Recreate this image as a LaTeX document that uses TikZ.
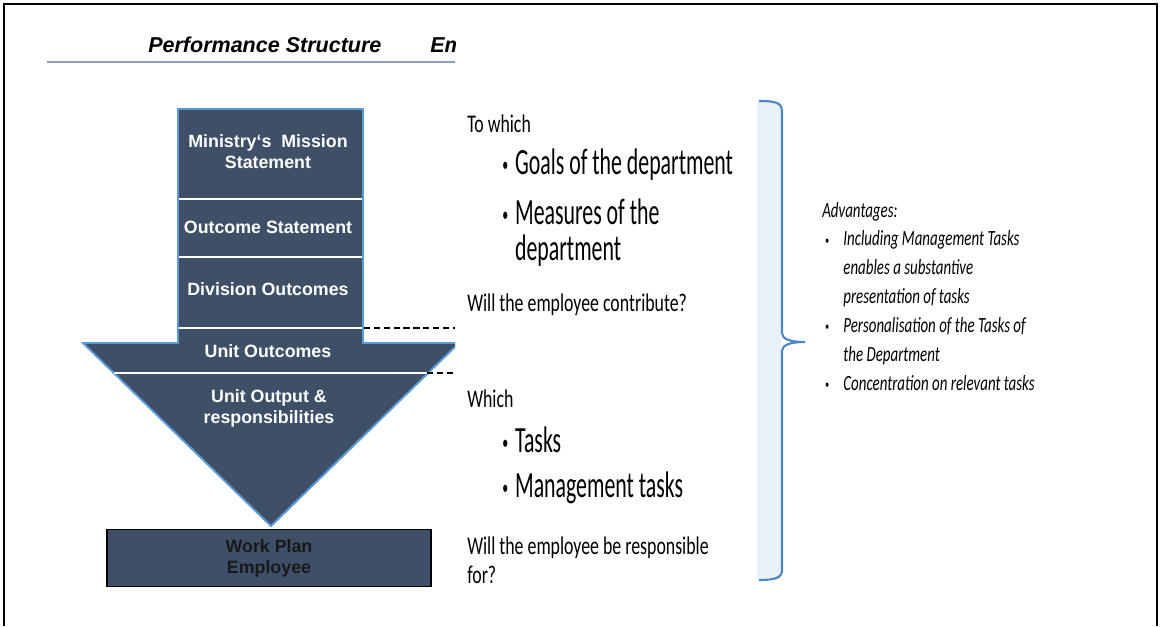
\documentclass[tikz,border=0pt]{standalone}
\usepackage{fontspec}
\setmainfont{Liberation Sans}
\newfontfamily\plainfont[FakeStretch=0.70]{Carlito}
\newfontfamily\bigfont[FakeStretch=0.59]{Carlito}
\newfontfamily\advfont[FakeStretch=0.69]{Carlito}
\usetikzlibrary{positioning}
\definecolor{slate}{HTML}{3E4F67}
\definecolor{edgeblue}{HTML}{5B9BD5}
\definecolor{bracecol}{HTML}{4A86C8}
\definecolor{gridfill}{HTML}{E9F0F9}
\definecolor{rulecol}{HTML}{8C9DBA}
\newcommand{\smallbullet}{\raisebox{0.08em}{\scalebox{0.55}{•}}}

\begin{document}
\begin{tikzpicture}[
        x=0.025cm, y=-0.025cm,
        stage/.style={text=white, font=\fontsize{12.66}{15}\selectfont\bfseries, align=center, inner sep=0pt},
        plain/.style={font=\plainfont\fontsize{18.1}{20}\selectfont, anchor=base west, inner sep=0pt, align=left},
        big/.style={font=\bigfont\fontsize{26.3}{25.6}\selectfont, anchor=base west, inner sep=0pt, align=left},
        adv/.style={font=\advfont\itshape\fontsize{15.4}{20.5}\selectfont, anchor=base west, inner sep=0pt, align=left},
        sep/.style={white, line width=1.4pt},
        link/.style={black, line width=1.3pt, dash pattern=on 4.5pt off 2.5pt},
    ]
    \useasboundingbox (0,0) rectangle (1161,626);
    \draw[line width=1.5pt] (4,626) -- (4,4) -- (1157,4) -- (1157,626);

    \node[anchor=base west, inner sep=0pt, font=\fontsize{15.3}{18}\selectfont\bfseries\itshape] (title) at (148,52) {Performance Structure};
    \begin{scope}
        \clip (0,0) rectangle (455,626);
        \node[anchor=base west, inner sep=0pt, font=\fontsize{15.3}{18}\selectfont\bfseries\itshape] (em) at (430,52) {Em};
        \draw[rulecol, line width=1.5pt] (47,62) -- (460,62);
        \draw[fill=slate, draw=edgeblue, line width=1.4pt]
            (178,109) -- (363,109) -- (363,343) -- (459,343) -- (271,526)
            -- (83,343) -- (178,343) -- cycle;
        \draw[sep] (179,199) -- (362,199);
        \draw[sep] (179,257) -- (362,257);
        \draw[sep] (179,328) -- (362,328);
        \draw[sep] (114,373) -- (427,373);
    \end{scope}

    \node[stage] (mission) at (268,152) {Ministry‘s~ Mission\\Statement};
    \node[stage, anchor=base] (outcome) at (268,233) {Outcome Statement};
    \node[stage, anchor=base] (division) at (268,295) {Division Outcomes};
    \node[stage, anchor=base] (unitout) at (268,357) {Unit Outcomes};
    \node[stage] (unitoutput) at (269,408) {Unit Output \&\\responsibilities};
    \node[draw=black, fill=slate, line width=1.4pt, minimum width=324*0.025cm, minimum height=57*0.025cm,
          text=black!90, font=\fontsize{12.66}{15}\selectfont\bfseries, align=center, inner sep=0pt]
          (workplan) at (269,558) {Work Plan\\Employee};

    \coordinate (d1) at (364,328);
    \coordinate (d1end) at (455,328);
    \coordinate (d2) at (427,373);
    \coordinate (d2end) at (455,373);
    \draw[link] (d1) -- (d1end);
    \draw[link] (d2) -- (d2end);

    \node[plain] (towhich) at (467,132) {To which};
    \node[big] (goals) at (467,174) {\hspace*{25pt}\makebox[9pt][l]{\smallbullet}Goals of the department};
    \node[big] (measures) at (467,260) {\hspace*{25pt}\makebox[9pt][l]{\smallbullet}Measures of the\\\hspace*{34pt}department};
    \node[plain] (contribute) at (467,311) {Will the employee contribute?};
    \node[plain] (which) at (467,407) {Which};
    \node[big] (tasks) at (467,452) {\hspace*{25pt}\makebox[9pt][l]{\smallbullet}Tasks};
    \node[big] (mgmt) at (467,497) {\hspace*{25pt}\makebox[9pt][l]{\smallbullet}Management tasks};
    \node[plain] (resp) at (467,583) {Will the employee be responsible\\for?};

    \fill[gridfill] (757,102) rectangle (781,579);
    \draw[bracecol, line width=1.5pt]
        (759,101) .. controls (777,101) and (782,103) .. (782,112) -- (782,333)
        .. controls (782,339) and (790,342) .. (805,342)
        .. controls (790,342) and (782,345) .. (782,351) -- (782,570)
        .. controls (782,577) and (777,580) .. (759,580);

    \node[adv] (adv) at (822,390) {Advantages:\\
        \hspace*{2pt}\makebox[13pt][l]{\smallbullet}Including Management Tasks\\
        \hspace*{15pt}enables a substantive\\
        \hspace*{15pt}presentation of tasks\\
        \hspace*{2pt}\makebox[13pt][l]{\smallbullet}Personalisation of the Tasks of\\
        \hspace*{15pt}the Department\\
        \hspace*{2pt}\makebox[13pt][l]{\smallbullet}Concentration on relevant tasks};
\end{tikzpicture}
\end{document}
